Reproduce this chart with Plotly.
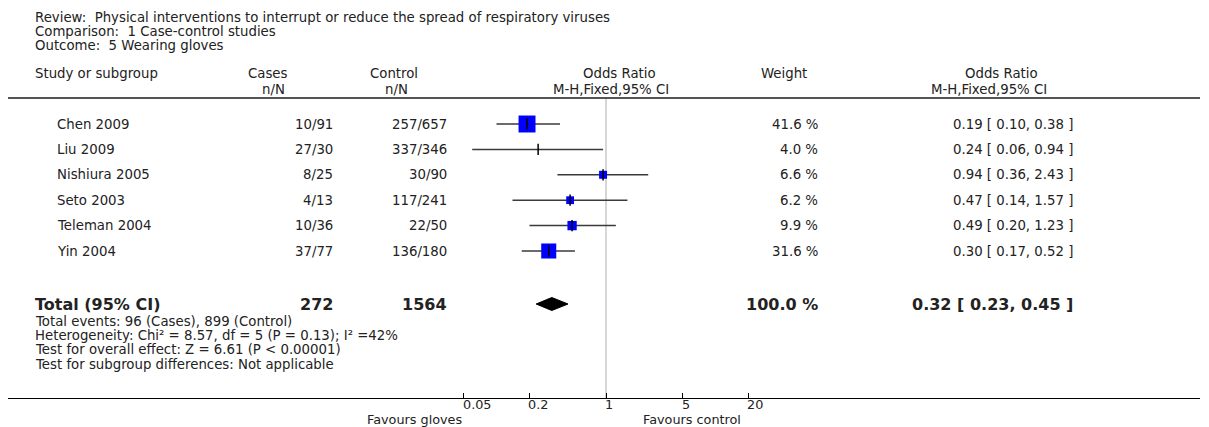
import math
import plotly.graph_objects as go

# ---------------- data ----------------
title_lines = [
    "Review:  Physical interventions to interrupt or reduce the spread of respiratory viruses",
    "Comparison:  1 Case-control studies",
    "Outcome:  5 Wearing gloves",
]
studies = ["Chen 2009", "Liu 2009", "Nishiura 2005", "Seto 2003", "Teleman 2004", "Yin 2004"]
cases = ["10/91", "27/30", "8/25", "4/13", "10/36", "37/77"]
controls = ["257/657", "337/346", "30/90", "117/241", "22/50", "136/180"]
weights = [41.6, 4.0, 6.6, 6.2, 9.9, 31.6]
or_est = [0.19, 0.24, 0.94, 0.47, 0.49, 0.30]
or_lo = [0.10, 0.06, 0.36, 0.14, 0.20, 0.17]
or_hi = [0.38, 0.94, 2.43, 1.57, 1.23, 0.52]

total_label = "Total (95% CI)"
total_cases = 272
total_controls = 1564
total_weight = 100.0
total_est, total_lo, total_hi = 0.32, 0.23, 0.45

footer_lines = [
    "Total events: 96 (Cases), 899 (Control)",
    "Heterogeneity: Chi² = 8.57, df = 5 (P = 0.13); I² =42%",
    "Test for overall effect: Z = 6.61 (P < 0.00001)",
    "Test for subgroup differences: Not applicable",
]
tick_vals = [0.05, 0.2, 1, 5, 20]
tick_text = ["0.05", "0.2", "1", "5", "20"]
favours_left = "Favours gloves"
favours_right = "Favours control"

# ---------------- layout constants (reference-pixel coordinates) ----------------
W, H = 1209, 427
OFF = 8                   # page body margin
PL, PR = 8, 1200          # plot area left/right in px
PT = 8                    # plot area top in px
AXIS_Y = 398              # axis line position in px
NULL_PX = 606             # pixel of OR = 1
PX_PER_DEC = 109.5
ROW0, ROW_STEP = 124, 25.4
TOTAL_Y = 304
HEADER_LINE_Y = 98
FONT = "DejaVu Sans"
TXT = "#222222"
FS = 13.3
FS_AX = 12.8
FSB = 16

row_y = [ROW0 + ROW_STEP * i for i in range(len(studies))]


def px2paper(px):
    return (px - PL) / (PR - PL)


def py2paper(py):
    return (AXIS_Y - py) / (AXIS_Y - PT)


annotations = []


def text(s, px, py, anchor="left", size=FS, bold=False):
    annotations.append(dict(
        text=s, x=px2paper(px), y=py2paper(py), xref="paper", yref="paper",
        xanchor=anchor, yanchor="middle", showarrow=False,
        borderpad=0, borderwidth=0,
        font=dict(family=FONT, size=size, color=TXT, weight="bold" if bold else "normal"),
    ))


# titles
for i, t in enumerate(title_lines):
    text(t, 35, 17 + 14.3 * i)

# headers
text("Study or subgroup", 35, 74)
text("Cases", 288, 74, "right")
text("n/N", 285, 89, "right")
text("Control", 418, 74, "right")
text("n/N", 408, 89, "right")
text("Odds Ratio", 619, 74, "center")
text("M-H,Fixed,95% CI", 611, 89, "center")
text("Weight", 784, 74, "center")
text("Odds Ratio", 1001, 74, "center")
text("M-H,Fixed,95% CI", 989, 89, "center")

# rows
for i, name in enumerate(studies):
    y = row_y[i]
    text(name, 57, y)
    text(cases[i], 333, y, "right")
    text(controls[i], 447, y, "right")
    text(f"{weights[i]:.1f} %", 818, y, "right")
    text(f"{or_est[i]:.2f} [ {or_lo[i]:.2f}, {or_hi[i]:.2f} ]", 1073, y, "right")

# total
text(total_label, 35, TOTAL_Y, bold=True, size=FSB)
text(str(total_cases), 333, TOTAL_Y, "right", bold=True, size=FSB)
text(str(total_controls), 447, TOTAL_Y, "right", bold=True, size=FSB)
text(f"{total_weight:.1f} %", 818, TOTAL_Y, "right", bold=True, size=FSB)
text(f"{total_est:.2f} [ {total_lo:.2f}, {total_hi:.2f} ]", 1073, TOTAL_Y, "right", bold=True, size=FSB)

for i, t in enumerate(footer_lines):
    text(t, 35, 321 + 14.4 * i)

# tick labels (left-aligned at tick, as in the reference)
for v, t in zip(tick_vals, tick_text):
    annotations.append(dict(
        text=t, x=math.log10(v), y=py2paper(404.5), xref="x", yref="paper", xanchor="left",
        yanchor="middle", xshift=-1, showarrow=False, borderpad=0, borderwidth=0,
        font=dict(family=FONT, size=FS_AX, color=TXT),
    ))
text(favours_left, 462, 419.5, "right", size=FS_AX)
text(favours_right, 643, 419.5, "left", size=FS_AX)

fig = go.Figure()

# null line at OR = 1
fig.add_trace(go.Scatter(x=[1, 1], y=[HEADER_LINE_Y, AXIS_Y], mode="lines",
                         line=dict(color="#c8c8c8", width=1.5), hoverinfo="skip"))

# CI lines
ci_x, ci_y = [], []
for lo, hi, y in zip(or_lo, or_hi, row_y):
    ci_x += [lo, hi, None]
    ci_y += [y, y, None]
fig.add_trace(go.Scatter(x=ci_x, y=ci_y, mode="lines",
                         line=dict(color="#3a3a3a", width=1.5), hoverinfo="skip"))

# weight boxes
box_size = [(2.32 * math.sqrt(w) + 2.0) if w >= 5 else 0 for w in weights]
fig.add_trace(go.Scatter(x=or_est, y=row_y, mode="markers",
                         marker=dict(symbol="square", size=box_size, color="#0000ff",
                                     opacity=1, line=dict(width=0)), hoverinfo="skip"))
# point-estimate ticks
fig.add_trace(go.Scatter(x=or_est, y=row_y, mode="markers",
                         marker=dict(symbol="line-ns", size=8, opacity=1,
                                     line=dict(width=1.5, color="#000000")), hoverinfo="skip"))

# total diamond
dh = 6.5
fig.add_trace(go.Scatter(x=[total_lo, total_est, total_hi, total_est, total_lo],
                         y=[TOTAL_Y, TOTAL_Y - dh, TOTAL_Y, TOTAL_Y + dh, TOTAL_Y],
                         mode="lines", fill="toself", fillcolor="#000000",
                         line=dict(color="#000000", width=1), hoverinfo="skip"))

shapes = [dict(type="line", xref="paper", yref="paper", x0=0, x1=1,
               y0=py2paper(HEADER_LINE_Y), y1=py2paper(HEADER_LINE_Y),
               line=dict(color="#555555", width=2))]

fig.update_layout(
    width=W - OFF, height=H - OFF,
    margin=dict(l=PL - OFF, r=W - PR, t=PT - OFF, b=H - AXIS_Y, pad=0),
    paper_bgcolor="white", plot_bgcolor="white",
    showlegend=False,
    annotations=annotations,
    shapes=shapes,
    xaxis=dict(type="log",
               range=[(PL - NULL_PX) / PX_PER_DEC, (PR - NULL_PX) / PX_PER_DEC],
               showline=True, linecolor="#000000", linewidth=1,
               ticks="inside", ticklen=5, tickcolor="#000000", tickwidth=1,
               tickvals=tick_vals, showticklabels=False,
               showgrid=False, zeroline=False, fixedrange=True),
    yaxis=dict(range=[AXIS_Y, PT], visible=False, fixedrange=True),
)

fig.write_html("out.html")
